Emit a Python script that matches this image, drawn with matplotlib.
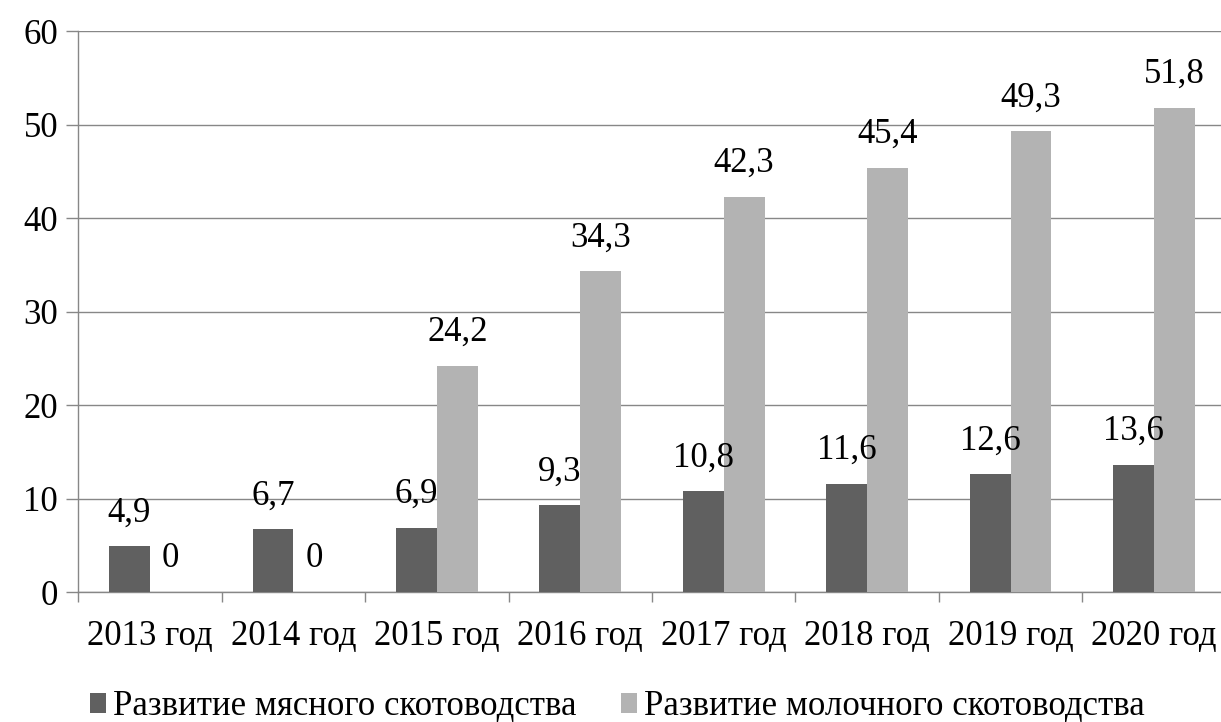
import numpy as np
import matplotlib.pyplot as plt

plt.rcParams['font.family'] = ['Liberation Serif', 'DejaVu Serif']

years = ["2013 год", "2014 год", "2015 год", "2016 год",
         "2017 год", "2018 год", "2019 год", "2020 год"]
meat = [4.9, 6.7, 6.9, 9.3, 10.8, 11.6, 12.6, 13.6]
dairy = [0, 0, 24.2, 34.3, 42.3, 45.4, 49.3, 51.8]
names = ["Развитие мясного скотоводства", "Развитие молочного скотоводства"]

fig = plt.figure(figsize=(12.21, 7.22), dpi=100)
ax = fig.add_axes([0.0641, 0.18, 0.9397, 0.777])

x = np.arange(len(years))
w = 0.285
grid_c = "#878787"

b1 = ax.bar(x - w / 2, meat, w, color="#606060", label=names[0], zorder=3)
b2 = ax.bar(x + w / 2, dairy, w, color="#b3b3b3", label=names[1], zorder=3)

def fmt(v):
    return "0" if v == 0 else ("%.1f" % v).replace(".", ",")

for bars, vals in ((b1, meat), (b2, dairy)):
    for r, v in zip(bars, vals):
        ax.annotate(fmt(v), (r.get_x() + r.get_width() / 2, v),
                    xytext=(0, 12), textcoords="offset points",
                    ha="center", va="bottom", fontsize=25)

ax.set_ylim(0, 60)
ax.set_yticks(range(0, 61, 10))
ax.set_xlim(-0.5, len(years) - 0.5)
ax.set_xticks(x)
ax.set_xticklabels(years)
ax.set_xticks(np.arange(-0.5, len(years) - 0.5, 1), minor=True)
ax.tick_params(axis="x", which="major", length=0, pad=20, labelsize=25)
ax.tick_params(axis="x", which="minor", length=7, color=grid_c, width=1)
ax.tick_params(axis="y", length=8.5, color=grid_c, width=1, labelsize=25, pad=6)

ax.yaxis.grid(True, color=grid_c, linewidth=1, zorder=0)
for s in ("top", "right"):
    ax.spines[s].set_visible(False)
for s in ("left", "bottom"):
    ax.spines[s].set_color(grid_c)
    ax.spines[s].set_linewidth(1)

fig.legend(loc="center left", bbox_to_anchor=(90 / 1221, 0.021), ncol=2,
           frameon=False, fontsize=25, borderpad=0, borderaxespad=0,
           handlelength=0.47, handleheight=0.5,
           handletextpad=0.2, columnspacing=1.27)

fig.savefig("out.png", dpi=100)
